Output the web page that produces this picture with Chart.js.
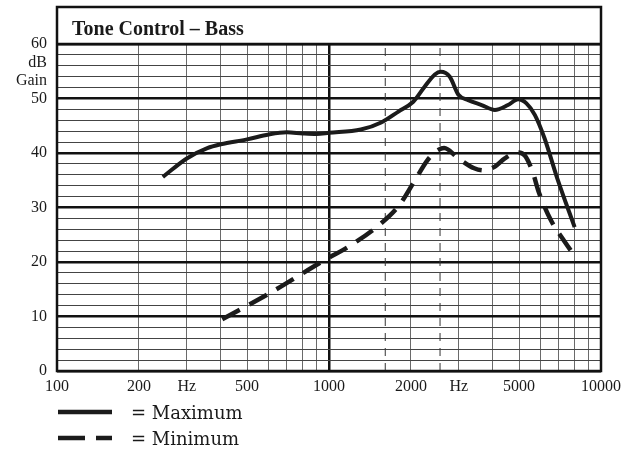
<!DOCTYPE html>
<html>
<head>
<meta charset="utf-8">
<script src="https://cdn.jsdelivr.net/npm/chart.js@4.4.1/dist/chart.umd.min.js"></script>
<style>
  html, body { margin: 0; padding: 0; background: #fff; }
  #wrap { width: 632px; height: 453px; position: relative; }
</style>
</head>
<body>
<div id="wrap"><canvas id="c" width="632" height="453"></canvas></div>
<script>
// ---- Data ----
const chartTitle = 'Tone Control – Bass';
const seriesNames = ['= Maximum', '= Minimum'];

const maxFreq = [245, 300, 357, 400, 500, 600, 700, 800, 900, 1000, 1310, 1555, 1800, 2040, 2250, 2450, 2575, 2780, 2990, 3250, 3640, 4070, 4550, 4960, 5320, 5710, 6200, 6900, 8000];
const maxGain = [35.6, 39.0, 40.9, 41.6, 42.5, 43.4, 43.8, 43.6, 43.5, 43.7, 44.3, 45.6, 47.6, 49.4, 52.2, 54.4, 54.9, 54.0, 50.7, 49.7, 48.8, 47.9, 48.8, 49.85, 49.1, 47.0, 42.7, 35.4, 26.4];

const minFreq = [405, 597, 945, 1205, 1512, 1817, 2069, 2303, 2461, 2650, 2993, 3418, 3725, 4073, 4430, 4963, 5250, 5600, 5890, 6553, 7178, 8000];
const minGain = [9.5, 14.1, 20.1, 23.1, 26.6, 30.5, 35.0, 38.7, 40.2, 40.9, 39.0, 37.2, 36.8, 37.5, 39.0, 40.1, 39.5, 36.6, 33.0, 27.6, 24.5, 21.1];

const markerFreqs = [1610, 2560];           // dashed vertical reference lines

const xGridValues = [100, 200, 300, 400, 500, 600, 700, 800, 900, 1000, 2000, 3000, 4000, 5000, 6000, 7000, 8000, 9000, 10000];
const xTickValues = [100, 200, 300, 500, 1000, 2000, 3000, 5000, 10000];
const xTickLabels = ['100', '200', 'Hz', '500', '1000', '2000', 'Hz', '5000', '10000'];

const yTickValues = [0, 10, 20, 30, 40, 50, 60];
const yTickLabels = ['0', '10', '20', '30', '40', '50', '60'];
const yUnitValues = [56.5, 53.3];
const yUnitLabels = ['dB', 'Gain'];

// ---- Build datasets ----
const toPts = (xs, ys) => xs.map((x, i) => ({ x: x, y: ys[i] }));

const datasets = [
  {
    label: seriesNames[0],
    data: toPts(maxFreq, maxGain),
    borderColor: '#1b1b1b',
    borderWidth: 4,
    pointRadius: 0,
    cubicInterpolationMode: 'monotone',
    fill: false,
    order: 0
  },
  {
    label: seriesNames[1],
    data: toPts(minFreq, minGain),
    borderColor: '#1b1b1b',
    borderWidth: 4.5,
    borderDash: [20, 11],
    borderCapStyle: 'butt',
    pointRadius: 0,
    cubicInterpolationMode: 'monotone',
    fill: false,
    order: 0
  }
];
markerFreqs.forEach(f => {
  datasets.push({
    label: 'marker ' + f,
    data: [{ x: f, y: 0 }, { x: f, y: 60 }],
    borderColor: '#333',
    borderWidth: 1,
    borderDash: [8, 7],
    pointRadius: 0,
    fill: false,
    order: 1
  });
});

const serif = "'Liberation Serif', 'Times New Roman', serif";

const framePlugin = {
  id: 'framePlugin',
  afterDraw(chart) {
    const ctx = chart.ctx;
    const a = chart.chartArea;
    const yS = chart.scales.y;
    ctx.save();
    // frame
    ctx.strokeStyle = '#111';
    ctx.lineWidth = 2.5;
    ctx.strokeRect(a.left, 7, a.right - a.left, a.bottom - 7);
    ctx.beginPath();
    ctx.moveTo(a.left, a.top);
    ctx.lineTo(a.right, a.top);
    ctx.stroke();
    // title
    ctx.fillStyle = '#1a1a1a';
    ctx.font = "bold 20px " + serif;
    ctx.textAlign = 'left';
    ctx.textBaseline = 'alphabetic';
    ctx.fillText(chartTitle, a.left + 15, 35);
    // unit labels
    ctx.font = "16px " + serif;
    ctx.textAlign = 'right';
    ctx.textBaseline = 'middle';
    yUnitValues.forEach((v, i) => {
      ctx.fillText(yUnitLabels[i], a.left - 10, yS.getPixelForValue(v));
    });
    // legend
    const legY = [412, 438];
    chart.data.datasets.slice(0, 2).forEach((ds, i) => {
      ctx.beginPath();
      ctx.strokeStyle = ds.borderColor;
      ctx.lineWidth = 4.5;
      ctx.lineCap = 'butt';
      ctx.setLineDash(i === 1 ? [27, 11] : []);
      ctx.moveTo(58, legY[i]);
      ctx.lineTo(112, legY[i]);
      ctx.stroke();
      ctx.setLineDash([]);
      ctx.fillStyle = '#1a1a1a';
      ctx.font = "18px 'DejaVu Serif', serif";
      ctx.textAlign = 'left';
      ctx.textBaseline = 'middle';
      ctx.fillText(ds.label, 131, legY[i] + 2);
    });
    ctx.restore();
  }
};

new Chart(document.getElementById('c'), {
  type: 'line',
  data: { datasets: datasets },
  options: {
    responsive: false,
    animation: false,
    layout: { padding: { top: 44, right: 31, left: 0, bottom: 0 } },
    plugins: {
      legend: { display: false },
      title: { display: false },
      tooltip: { enabled: false }
    },
    scales: {
      x: {
        type: 'logarithmic',
        min: 100,
        max: 10000,
        afterBuildTicks(scale) {
          scale.ticks = xGridValues.map(v => ({ value: v }));
        },
        afterFit(scale) { scale.height = 82; },
        border: { display: false },
        grid: {
          drawTicks: false,
          color: c => (c.tick && c.tick.value === 1000) ? '#111' : '#6a6a6a',
          lineWidth: c => (c.tick && c.tick.value === 1000) ? 2.5 : 1
        },
        ticks: {
          autoSkip: false,
          maxRotation: 0,
          padding: 6,
          color: '#1a1a1a',
          font: { family: serif, size: 16 },
          callback: v => {
            const i = xTickValues.indexOf(v);
            return i >= 0 ? xTickLabels[i] : '';
          }
        }
      },
      y: {
        type: 'linear',
        min: 0,
        max: 60,
        afterFit(scale) { scale.width = 57; },
        border: { display: false },
        grid: {
          drawTicks: false,
          color: c => (c.tick && c.tick.value % 10 === 0) ? '#111' : '#444',
          lineWidth: c => (c.tick && c.tick.value % 10 === 0) ? 2.5 : 1
        },
        ticks: {
          stepSize: 2,
          autoSkip: false,
          padding: 10,
          color: '#1a1a1a',
          font: { family: serif, size: 16 },
          callback: v => {
            const i = yTickValues.indexOf(v);
            return i >= 0 ? yTickLabels[i] : '';
          }
        }
      }
    }
  },
  plugins: [framePlugin]
});
</script>
</body>
</html>
